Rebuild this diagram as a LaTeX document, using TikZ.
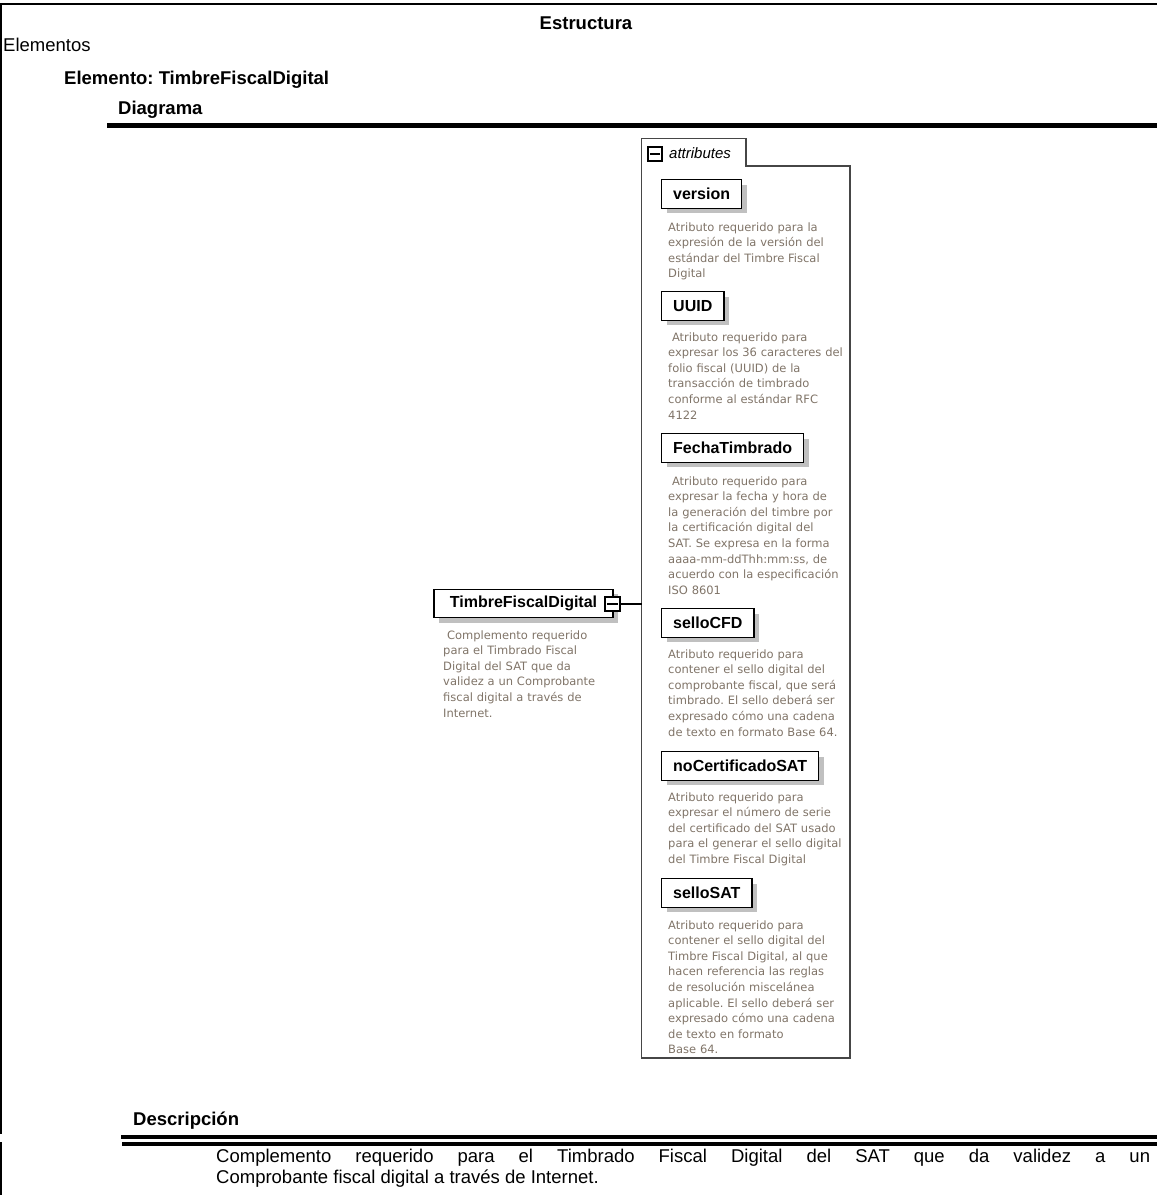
\documentclass[tikz,border=0pt]{standalone}
\usepackage{fontspec}
\setmainfont{Liberation Sans}
\newfontfamily\notefont{DejaVu Sans}
\usetikzlibrary{shadows}
\definecolor{notegray}{RGB}{128,116,104}
\definecolor{shadowgray}{RGB}{192,192,192}
\definecolor{framegray}{RGB}{70,70,70}
\frenchspacing

\begin{document}
\begin{tikzpicture}[x=1pt,y=-1pt,
	head/.style={anchor=base west, inner sep=0pt, font=\fontsize{18.5}{21}\selectfont\bfseries},
	attr/.style={draw=black, line width=1.4pt, fill=white, anchor=north west, inner xsep=11.5pt, inner ysep=0pt,
		minimum height=28.5pt, font=\fontsize{16}{18}\selectfont\bfseries,
		general shadow={fill=shadowgray, shadow xshift=5pt, shadow yshift=-5pt}},
	note/.style={anchor=base west, inner sep=0pt, text width=190pt, align=left, text=notegray,
		font=\notefont\fontsize{11.5}{15.6}\selectfont},
	minusbox/.style={draw=black, line width=1.4pt, fill=white, minimum width=14pt, minimum height=14pt, inner sep=0pt}]

	\useasboundingbox (0,0) rectangle (1157,1195);

% 1. Marco y encabezados
\draw[line width=2.5pt] (0,4) -- (1157,4);
\draw[line width=2pt] (1,4) -- (1,1134);
\draw[line width=2pt] (1,1142) -- (1,1195);
\node[head, anchor=base] (estructura) at (586,29) {Estructura};
\node[head, font=\fontsize{18.5}{21}\selectfont] (elementos) at (3,51.5) {Elementos};
\node[head] (elemento) at (64,84.5) {Elemento: TimbreFiscalDigital};
\node[head] (diagrama) at (118,114.5) {Diagrama};
\draw[line width=4.5pt] (107,125.5) -- (1157,125.5);

% 2. Elemento raiz
\node[attr, anchor=center, minimum width=179pt, inner xsep=14pt] (tfd) at (523.5,603.5) {TimbreFiscalDigital};
\node[minusbox, minimum width=15pt] (tfdm) at (612.5,604) {};
\draw[line width=1.2pt] ([xshift=3pt]tfdm.west) -- ([xshift=-3pt]tfdm.east);
\node[note, text width=180pt] (tfdnote) at (443,639) {\ Complemento requerido\\para el Timbrado Fiscal\\Digital del SAT que da\\validez a un Comprobante\\fiscal digital a través de\\Internet.};

% 3. Grupo de atributos
\draw[framegray, line width=1.3pt] (641.5,1058) -- (641.5,138.5) -- (746,138.5) -- (746,166) -- (850,166) -- (850,1058) -- cycle;
\coordinate (attrs) at (641.5,604);
\draw[line width=1.2pt] (tfdm.east) -- (attrs);
\node[minusbox] (attrm) at (655,154) {};
\draw[line width=1.2pt] ([xshift=3pt]attrm.west) -- ([xshift=-3pt]attrm.east);
\node[anchor=base west, inner sep=0pt, font=\fontsize{15}{17}\selectfont\itshape] (attrlabel) at (669,158.5) {attributes};

\foreach \nm/\y in {version/179, UUID/291, FechaTimbrado/433, selloCFD/608, noCertificadoSAT/751, selloSAT/878}
	\node[attr] (\nm) at (661,\y) {\nm};

\node[note] (versionnote) at (668,231) {Atributo requerido para la\\expresión de la versión del\\estándar del Timbre Fiscal\\Digital};
\node[note] (uuidnote) at (668,341) {\ Atributo requerido para\\expresar los 36 caracteres del\\folio fiscal (UUID) de la\\transacción de timbrado\\conforme al estándar RFC\\4122};
\node[note] (fechanote) at (668,485) {\ Atributo requerido para\\expresar la fecha y hora de\\la generación del timbre por\\la certificación digital del\\SAT. Se expresa en la forma\\aaaa-mm-ddThh:mm:ss, de\\acuerdo con la especificación\\ISO 8601};
\node[note] (cfdnote) at (668,658) {Atributo requerido para\\contener el sello digital del\\comprobante fiscal, que será\\timbrado. El sello deberá ser\\expresado cómo una cadena\\de texto en formato Base 64.};
\node[note] (certnote) at (668,801) {Atributo requerido para\\expresar el número de serie\\del certificado del SAT usado\\para el generar el sello digital\\del Timbre Fiscal Digital};
\node[note] (satnote) at (668,929) {Atributo requerido para\\contener el sello digital del\\Timbre Fiscal Digital, al que\\hacen referencia las reglas\\de resolución miscelánea\\aplicable. El sello deberá ser\\expresado cómo una cadena\\de texto en formato\\Base 64.};

% 4. Descripcion
\node[head] (descripcion) at (133,1125.5) {Descripción};
\draw[line width=3.5pt] (121,1137) -- (1157,1137);
\draw[line width=3.5pt] (122,1144) -- (1157,1144);
\node[anchor=base west, inner sep=0pt, text width=934pt, align=justify, font=\fontsize{18.5}{21}\selectfont] (desctext) at (216,1162)
	{Complemento requerido para el Timbrado Fiscal Digital del SAT que da validez a un\linebreak Comprobante fiscal digital a través de Internet.};
\end{tikzpicture}
\end{document}
